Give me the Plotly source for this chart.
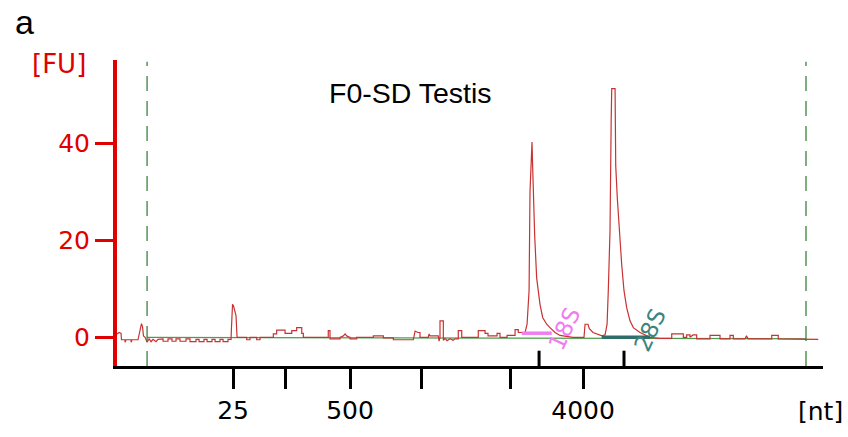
import plotly.graph_objects as go

# electropherogram, x = migration time (s), y = fluorescence [FU]
# trace is split in pieces so the two lists stay easy to line up
lead_t = [17.08, 17.23, 17.38, 17.41, 17.68, 17.68, 17.75, 18.13, 18.13, 18.2, 18.65, 18.8, 18.91, 18.99, 19.06, 19.18, 19.25, 19.33]
lead_fu = [0.7, 1.0, 0.8, -0.5, -0.5, -1.0, -0.5, -0.5, -1.0, -0.5, -0.5, 1.5, 2.8, 2.2, 0.3, 0.0, -0.6, -1.0]

noise_t = [19.48, 19.63, 19.78, 20.0, 20.15, 20.3,
           20.53, 20.53, 20.9, 20.9, 21.2, 21.2, 21.5, 21.5, 21.8, 21.8, 22.25, 22.25, 22.55, 22.55,
           23.0, 23.0, 23.23, 23.23, 23.6, 23.6, 23.83, 23.83, 24.2, 24.2, 24.43, 24.43, 24.8, 24.8,
           25.03, 25.03, 25.4, 25.4, 25.63]
noise_fu = [-0.3, -0.9, -0.4, -0.9, -0.4, -0.3,
            -0.3, -0.8, -0.8, -0.3, -0.3, -0.8, -0.8, -0.3, -0.3, -0.8, -0.8, -0.3, -0.3, -0.9,
            -0.9, -0.4, -0.4, -0.9, -0.9, -0.4, -0.4, -0.9, -0.9, -0.4, -0.4, -0.9, -0.9, -0.4,
            -0.4, -0.9, -0.9, -0.4, -0.4]

mid_t = [25.66, 25.74, 25.81, 25.93, 26.0, 26.08, 26.8, 26.8, 27.05, 27.05,
         27.55, 27.55, 27.8, 27.8, 28.8, 28.8, 29.05, 29.05, 29.68, 29.68,
         30.18, 30.18, 30.55, 30.55, 30.93, 30.93, 31.05, 31.05, 32.92, 32.92,
         33.05, 33.05, 33.8, 33.8, 34.05, 34.18, 34.3, 34.55, 34.55, 35.05,
         35.05, 36.3, 36.3, 37.05, 37.05, 37.8, 37.8, 39.3, 39.43, 39.65,
         39.8, 39.8, 40.42, 40.48, 40.55, 41.17, 41.23, 41.3, 41.3, 41.55,
         41.55]
mid_fu = [2.0, 6.8, 6.5, 5.5, 4.5, 0.0, 0.0, -0.5, -0.5, 0.0,
          0.0, -0.5, -0.5, 0.0, 0.0, 0.7, 0.7, 1.5, 1.5, 0.8,
          0.8, 1.4, 1.4, 2.0, 2.0, 0.8, 0.8, 0.0, 0.0, 1.4,
          1.4, -0.3, -0.3, 0.0, 0.3, 0.7, 0.3, 0.0, -0.3, -0.3,
          0.0, 0.0, 0.3, 0.3, -0.1, -0.1, -0.5, -0.5, 1.3, 1.0,
          1.0, 0.0, 0.0, 0.7, 0.3, 0.3, -0.8, 0.0, 3.4, 3.4,
          -0.6]

pre18_t = [41.68, 41.83, 42.05, 42.28, 42.43, 42.67, 42.67, 42.93, 42.93, 44.17, 44.17, 44.68, 44.68,
           44.9, 44.9, 45.58, 45.58, 45.8, 45.8, 46.33, 46.33, 46.93, 46.93, 47.17, 47.17, 47.68]
pre18_fu = [-0.2, -0.7, -0.3, -0.6, -0.3, -0.3, 1.4, 1.4, 0.0, 0.0, 1.4, 1.4, 0.8,
            0.8, 0.3, 0.3, 0.8, 0.8, 0.0, 0.0, 0.4, 0.4, 1.6, 1.6, 1.0, 1.0]

peak18_t = [47.83, 47.98, 48.05, 48.13, 48.2, 48.25, 48.3, 48.4, 48.55, 48.67, 48.8, 49.0,
            49.3, 49.55, 49.93, 50.3, 51.28, 52.1, 52.18, 52.4, 52.5, 52.78, 53.45, 53.68]
peak18_fu = [2.7, 9.6, 30.0, 35.0, 40.2, 35.0, 30.0, 21.0, 12.2, 9.5, 6.8, 4.1,
             2.7, 2.0, 1.0, 0.4, 0.0, 0.0, 2.7, 2.7, 1.8, 1.0, 0.3, 0.5]

peak28_t = [53.83, 53.92, 54.05, 54.14, 54.18, 54.43, 54.48, 54.6, 54.75, 54.93, 55.1, 55.3,
            55.55, 55.8, 56.3, 56.8, 57.05]
peak28_fu = [2.7, 9.5, 21.8, 45.0, 51.2, 51.2, 35.3, 28.6, 21.8, 14.9, 9.6, 6.1,
             3.4, 2.0, 1.0, 0.4, 0.0]

tail_t = [57.8, 58.68, 58.68, 59.55, 59.55, 59.8, 59.8, 60.05, 60.05, 60.28,
          60.55, 60.55, 61.55, 61.55, 62.3, 62.3, 63.05, 63.05, 63.3, 63.3,
          64.18, 64.29, 64.4, 66.18, 66.18, 66.67, 66.67, 69.67]
tail_fu = [-0.2, -0.2, 0.7, 0.7, 0.0, 0.0, 0.5, 0.5, 0.0, 0.5,
           0.5, -0.3, -0.3, 0.4, 0.4, -0.3, -0.3, 0.4, 0.4, -0.3,
           -0.3, 0.3, -0.3, -0.3, 0.4, 0.4, -0.3, -0.4]

baseline_t = [19.33, 68.75]
baseline_fu = [0.0, -0.3]

# ladder positions on the time axis, only some get a label
ladder_t = [25.78, 29.68, 34.55, 39.88, 46.55, 52.03]
ladder_lbl = ["25", "", "500", "", "", "4000"]

# rRNA peaks: name, tick position, bar start/end, bar level
rrna_names = ["18S", "28S"]
rrna_pos = [48.73, 55.1]
rrna_bar_start = [47.43, 53.43]
rrna_bar_end = [49.68, 57.05]
rrna_bar_fu = [0.85, 0.0]
rrna_label_t = [50.6, 57.05]
rrna_label_fu = [1.8, 1.5]
rrna_colors = ["#f07cf0", "#3a857f"]
rrna_bar_colors = ["#f07cf0", "#2f6e68"]

window_t = [19.33, 68.75]  # green dashed start/end lines

trace_t = lead_t + noise_t + mid_t + pre18_t + peak18_t + peak28_t + tail_t
trace_fu = lead_fu + noise_fu + mid_fu + pre18_fu + peak18_fu + peak28_fu + tail_fu

RED = "#e00000"
tick_font = dict(family="DejaVu Sans", size=25)

fig = go.Figure()
fig.add_scatter(x=baseline_t, y=baseline_fu, mode="lines",
                line=dict(color="#4f9a4f", width=1.3), hoverinfo="skip")
fig.add_scatter(x=trace_t, y=trace_fu, mode="lines",
                line=dict(color="#c83232", width=1.2))

for i in range(len(rrna_names)):
    fig.add_scatter(x=[rrna_bar_start[i], rrna_bar_end[i]], y=[rrna_bar_fu[i], rrna_bar_fu[i]],
                    mode="lines", line=dict(color=rrna_bar_colors[i], width=3.5))
    fig.add_annotation(x=rrna_label_t[i], y=rrna_label_fu[i], text=rrna_names[i],
                       showarrow=False, textangle=-65,
                       font=dict(family="DejaVu Sans", size=23, color=rrna_colors[i]))
    # small upward tick on the x axis at the peak
    fig.add_shape(type="line", xref="x", yref="paper", x0=rrna_pos[i], x1=rrna_pos[i],
                  y0=0, y1=0.05, line=dict(color="black", width=3))

for t in window_t:
    fig.add_shape(type="line", xref="x", yref="paper", x0=t, x1=t, y0=0, y1=0.994,
                  line=dict(color="#2a7a2a", width=1.2, dash="15px,10px"))

def label(x, y, text, size, color, family="DejaVu Sans"):
    fig.add_annotation(xref="paper", yref="paper", x=x, y=y, text=text,
                       xanchor="center", yanchor="middle", showarrow=False,
                       font=dict(family=family, size=size, color=color))

label(0.4164, 0.893, "F0-SD Testis", 28.5, "black", "Liberation Sans")
label(-0.1317, 1.123, "a", 34, "black", "Liberation Sans")
label(-0.0822, 0.987, "[FU]", 26, RED)
label(0.997, -0.149, "[nt]", 25, "black")

fig.update_layout(
    width=848, height=437,
    margin=dict(l=117, r=25, t=60, b=67),
    plot_bgcolor="white", paper_bgcolor="white",
    showlegend=False,
    xaxis=dict(range=[17.075, 70.025], showgrid=False, zeroline=False,
               showline=True, linecolor="black", linewidth=3,
               ticks="outside", ticklen=20, tickwidth=3, tickcolor="black",
               tickvals=ladder_t, ticktext=ladder_lbl,
               tickfont=dict(color="black", **tick_font)),
    yaxis=dict(range=[-5.9, 57.1], showgrid=False, zeroline=False,
               showline=True, linecolor=RED, linewidth=4,
               ticks="outside", ticklen=18, tickwidth=3, tickcolor=RED,
               tickvals=[0, 20, 40], tickfont=dict(color=RED, **tick_font)),
)

# page body has a default 8px margin, drop it so the figure sits at 0,0
fig.write_html("out.html", config={"displayModeBar": False},
               post_script="document.body.style.margin='0';")
